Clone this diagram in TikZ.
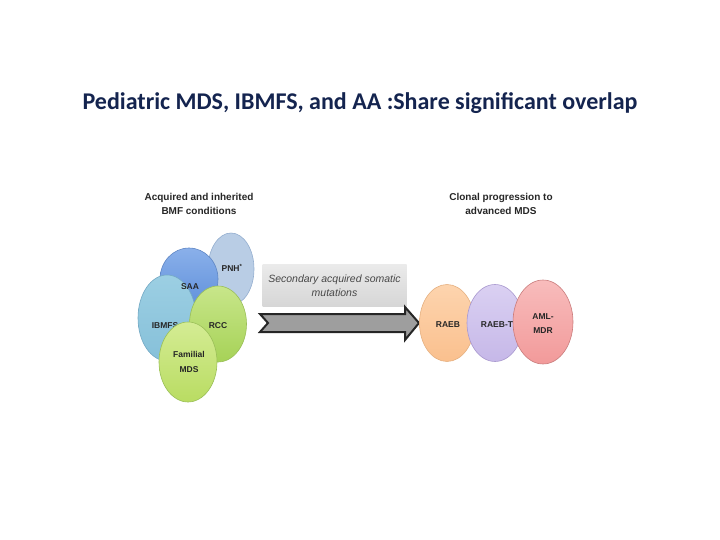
\documentclass[tikz,border=0pt]{standalone}
\usepackage{fontspec}
\setmainfont{Liberation Sans}
\newfontfamily\titlefont{Carlito}
\usetikzlibrary{shapes.geometric}
\definecolor{titleblue}{HTML}{14244F}
\definecolor{pnhfill}{HTML}{B9CDE5}
\definecolor{pnhline}{HTML}{94AECF}
\definecolor{saatop}{HTML}{8AB0EA}
\definecolor{saabot}{HTML}{5E8FDA}
\definecolor{saaline}{HTML}{5F86C4}
\definecolor{ibmtop}{HTML}{9CCFE3}
\definecolor{ibmbot}{HTML}{86C0D9}
\definecolor{ibmline}{HTML}{74A9C4}
\definecolor{rcctop}{HTML}{C8E68A}
\definecolor{rccbot}{HTML}{A6D257}
\definecolor{famtop}{HTML}{D4EC94}
\definecolor{fambot}{HTML}{B9DC62}
\definecolor{grnline}{HTML}{9ABF58}
\definecolor{raebtop}{HTML}{FDD4AE}
\definecolor{raebbot}{HTML}{FAC08E}
\definecolor{raebline}{HTML}{E5B080}
\definecolor{raebttop}{HTML}{DAD0F2}
\definecolor{raebtbot}{HTML}{C6B8E8}
\definecolor{raebtline}{HTML}{A999CF}
\definecolor{amltop}{HTML}{F8BCBC}
\definecolor{amlbot}{HTML}{F29A9A}
\definecolor{amlline}{HTML}{C97C7C}
\begin{document}
\begin{tikzpicture}[x=1pt,y=-1pt,
  blob/.style={ellipse, inner sep=0pt, line width=0.6pt},
  lab/.style={font=\fontsize{8.5}{9}\selectfont\bfseries, text=black!85, inner sep=0pt},
  head/.style={font=\fontsize{10}{11}\selectfont\bfseries, text=black!85, align=center, inner sep=0pt}]
\useasboundingbox (0,0) rectangle (720,540);
\node[font=\titlefont\fontsize{24}{28}\selectfont\bfseries, text=titleblue] (title) at (360,103) {Pediatric MDS, IBMFS, and AA :Share significant overlap};

\node[head] (lhead) at (199,204) {Acquired and inherited\\[3pt]BMF conditions};
\node[head] (rhead) at (501,204) {Clonal progression to\\[3pt]advanced MDS};

% left group
\node[blob, minimum width=46pt, minimum height=72pt, draw=pnhline, fill=pnhfill] (pnh) at (231,269) {};
\node[lab] (lpnh) at (232,268) {PNH\textsuperscript{*}};
\node[blob, minimum width=58pt, minimum height=62pt, draw=saaline, top color=saatop, bottom color=saabot] (saa) at (189,279) {};
\node[blob, minimum width=58pt, minimum height=86pt, draw=ibmline, top color=ibmtop, bottom color=ibmbot] (ibmfs) at (167,318) {};
\node[lab] (lsaa) at (190,287) {SAA};
\node[blob, minimum width=57pt, minimum height=76pt, draw=grnline, top color=rcctop, bottom color=rccbot] (rcc) at (218,324) {};
\node[lab] (lrcc) at (218,326) {RCC};
\node[lab] (libm) at (165,326) {IBMFS};
\node[blob, minimum width=58pt, minimum height=80pt, draw=grnline, top color=famtop, bottom color=fambot] (fam) at (188,362) {};
\node[lab, align=center] (lfam) at (189,362) {Familial\\[6pt]MDS};

% middle
\node[minimum width=144pt, minimum height=42pt, inner sep=0pt, top color=black!8, bottom color=black!16] (box) at (334.5,285) {};
\node[font=\fontsize{10.5}{12}\selectfont\itshape, text=black!72, align=center, inner sep=0pt] (boxtxt) at (334.5,286) {Secondary acquired somatic\\[2pt]mutations};
\coordinate (a1) at (260,314);
\coordinate (a2) at (405,314);
\coordinate (a3) at (405,307);
\coordinate (a4) at (419,323);
\coordinate (a5) at (405,340);
\coordinate (a6) at (405,332);
\coordinate (a7) at (260,332);
\coordinate (a8) at (268,323);
\draw[line width=2pt, line join=miter, draw=black!85, fill=black!38] (a1) -- (a2) -- (a3) -- (a4) -- (a5) -- (a6) -- (a7) -- (a8) -- cycle;

% right group
\node[blob, minimum width=55pt, minimum height=77pt, draw=raebline, top color=raebtop, bottom color=raebbot] (raeb) at (447,323) {};
\node[blob, minimum width=56pt, minimum height=77pt, draw=raebtline, top color=raebttop, bottom color=raebtbot] (raebt) at (495,323) {};
\node[blob, minimum width=60pt, minimum height=84pt, draw=amlline, top color=amltop, bottom color=amlbot] (aml) at (543,322) {};
\node[lab] (lraeb) at (448,325) {RAEB};
\node[lab] (lraebt) at (497,325) {RAEB-T};
\node[lab, align=center] (laml) at (543,324) {AML-\\[5pt]MDR};
\end{tikzpicture}
\end{document}
